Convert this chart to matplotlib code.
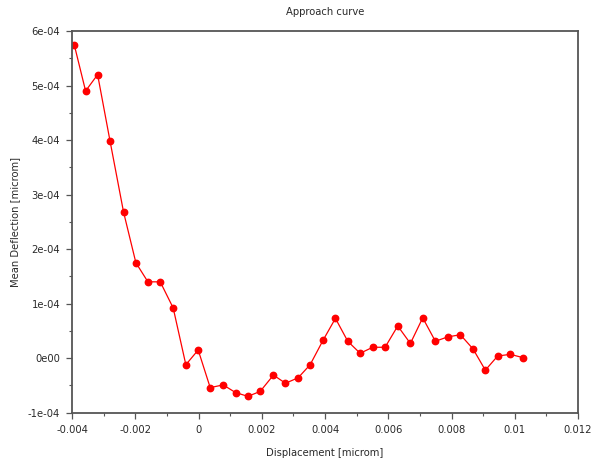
import matplotlib
matplotlib.use("Agg")
import matplotlib.pyplot as plt
from matplotlib.ticker import FixedLocator, FixedFormatter, MultipleLocator

# Approach curve samples
displacement = [-0.00393, -0.00357, -0.00319, -0.00280, -0.00237, -0.00198, -0.00160,
                -0.00121, -0.00080, -0.00040, -0.00001, 0.00037, 0.00078, 0.00117,
                0.00156, 0.00195, 0.00237, 0.00275, 0.00315, 0.00353, 0.00394,
                0.00433, 0.00472, 0.00511, 0.00551, 0.00590, 0.00630, 0.00670,
                0.00709, 0.00749, 0.00788, 0.00828, 0.00868, 0.00907, 0.00946,
                0.00986, 0.01026]
deflection = [5.75e-4, 4.90e-4, 5.20e-4, 3.99e-4, 2.68e-4, 1.75e-4, 1.40e-4,
              1.40e-4, 0.92e-4, -0.12e-4, 0.15e-4, -0.54e-4, -0.49e-4, -0.63e-4,
              -0.70e-4, -0.61e-4, -0.31e-4, -0.46e-4, -0.36e-4, -0.12e-4, 0.33e-4,
              0.73e-4, 0.31e-4, 0.09e-4, 0.20e-4, 0.20e-4, 0.59e-4, 0.27e-4,
              0.74e-4, 0.31e-4, 0.39e-4, 0.43e-4, 0.17e-4, -0.22e-4, 0.04e-4,
              0.07e-4, 0.01e-4]

x_ticks = [-0.004, -0.002, 0, 0.002, 0.004, 0.006, 0.008, 0.01, 0.012]
x_tick_labels = ["-0.004", "-0.002", "0", "0.002", "0.004", "0.006", "0.008", "0.01", "0.012"]
y_ticks = [-1e-4, 0, 1e-4, 2e-4, 3e-4, 4e-4, 5e-4, 6e-4]
y_tick_labels = ["-1e-04", "0e00", "1e-04", "2e-04", "3e-04", "4e-04", "5e-04", "6e-04"]

title = "Approach curve"
x_label = "Displacement [microm]"
y_label = "Mean Deflection [microm]"

plt.rcParams["font.family"] = ["DejaVu Sans"]
text_color = "#2a2a2a"
frame_color = "#555555"

fig = plt.figure(figsize=(5.93, 4.62), dpi=100)
ax = fig.add_axes([72 / 593, 1 - 412.7 / 462, (578 - 72) / 593, (412.7 - 31) / 462])

ax.plot(displacement, deflection, color="#ff0000", linewidth=0.9,
        marker="o", markersize=4.6, markerfacecolor="#ff0000", markeredgecolor="#ff0000")

ax.set_xlim(-0.004, 0.012)
ax.set_ylim(-1e-4, 6e-4)

ax.xaxis.set_major_locator(FixedLocator(x_ticks))
ax.xaxis.set_major_formatter(FixedFormatter(x_tick_labels))
ax.xaxis.set_minor_locator(MultipleLocator(0.001))
ax.yaxis.set_major_locator(FixedLocator(y_ticks))
ax.yaxis.set_major_formatter(FixedFormatter(y_tick_labels))
ax.yaxis.set_minor_locator(MultipleLocator(0.5e-4))

ax.tick_params(which="major", direction="out", length=4.5, width=0.9,
               color=frame_color, labelsize=7.2, labelcolor=text_color, pad=4)
ax.tick_params(which="minor", direction="out", length=2.5, width=0.8, color=frame_color)
ax.tick_params(top=False, right=False, which="both")

for side in ("left", "bottom", "top", "right"):
    ax.spines[side].set_color(frame_color)
    ax.spines[side].set_linewidth(1.3)

ax.set_xlabel(x_label, fontsize=7.2, color=text_color, labelpad=10)
ax.set_ylabel(y_label, fontsize=7.2, color=text_color, labelpad=6)
fig.text(0.5 * (72 + 578) / 593, 1 - 12 / 462, title, ha="center", va="center",
         fontsize=7.2, color=text_color)

fig.savefig("out.png", dpi=100, facecolor="white")
